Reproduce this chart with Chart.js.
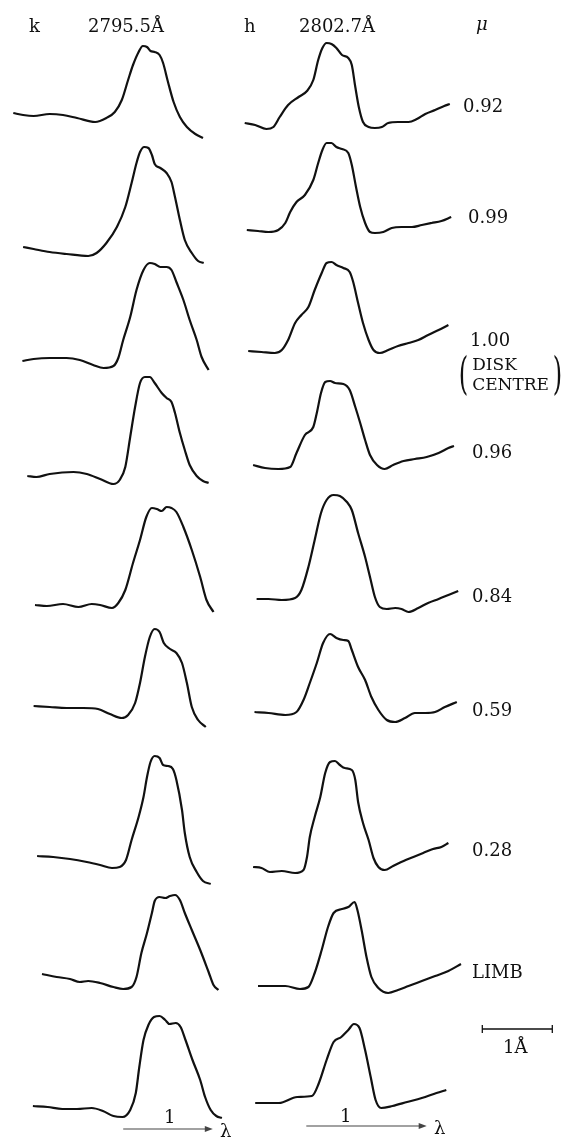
<!DOCTYPE html>
<html>
<head>
<meta charset="utf-8">
<script src="https://cdn.jsdelivr.net/npm/chart.js@4.4.1/dist/chart.umd.min.js"></script>
<style>
  html, body { margin: 0; padding: 0; background: #fff; }
  #fig { position: relative; width: 575px; height: 1141px; font-family: "DejaVu Serif", "Liberation Serif", serif; color: #111; }
  #fig canvas { position: absolute; left: 0; top: 0; }
  .t { position: absolute; white-space: nowrap; font-size: 18px; line-height: 1; transform: translateY(-50%); }
  .disk { display: flex; align-items: center; }
  .disk .p { font-size: 44px; line-height: 1; font-weight: 200; transform: scaleX(0.55); }
  .disk .w { font-size: 17px; line-height: 20px; }
</style>
</head>
<body>
<div id="fig">
  <canvas id="c" width="575" height="1141"></canvas>
  <div class="t" style="left:29px;top:26px">k</div>
  <div class="t" style="left:88px;top:26px">2795.5Å</div>
  <div class="t" style="left:244px;top:26px">h</div>
  <div class="t" style="left:299px;top:26px">2802.7Å</div>
  <div class="t" style="left:476px;top:24px;font-style:italic">μ</div>
  <div id="mu"></div>
  <div class="t disk" style="left:455px;top:374px"><span class="p">(</span><span class="w">DISK<br>CENTRE</span><span class="p">)</span></div>
  <div class="t" style="left:503px;top:1047px">1Å</div>
  <div class="t" style="left:164px;top:1117px">1</div>
  <div class="t" style="left:220px;top:1131px">λ</div>
  <div class="t" style="left:340px;top:1116px">1</div>
  <div class="t" style="left:434px;top:1128px">λ</div>
</div>
<script>
// Mg II k and h line profiles, wavelength offset (Å) vs relative intensity
const muLabels = ["0.92", "0.99", "1.00", "0.96", "0.84", "0.59", "0.28", "LIMB"];

const k092 = [[0.19,0.27],[0.33,0.25],[0.48,0.24],[0.71,0.26],[0.90,0.25],[1.10,0.22],[1.36,0.18],[1.52,0.22],[1.64,0.28],[1.74,0.40],[1.83,0.60],[1.90,0.75],[1.98,0.88],[2.04,0.94],[2.10,0.93],[2.15,0.89],[2.21,0.88],[2.28,0.85],[2.33,0.77],[2.40,0.58],[2.48,0.38],[2.57,0.23],[2.67,0.13],[2.79,0.06],[2.90,0.02]];
const k099 = [[0.33,0.18],[0.48,0.16],[0.71,0.13],[0.95,0.11],[1.26,0.09],[1.38,0.12],[1.52,0.22],[1.67,0.38],[1.79,0.58],[1.88,0.82],[1.95,1.02],[2.00,1.13],[2.06,1.18],[2.12,1.17],[2.17,1.10],[2.21,1.01],[2.29,0.97],[2.38,0.92],[2.45,0.83],[2.50,0.68],[2.57,0.45],[2.64,0.25],[2.74,0.12],[2.83,0.04],[2.91,0.02]];
const k100 = [[0.32,0.11],[0.48,0.13],[0.71,0.14],[0.95,0.14],[1.14,0.12],[1.33,0.07],[1.48,0.04],[1.62,0.06],[1.69,0.14],[1.76,0.32],[1.86,0.55],[1.95,0.82],[2.05,1.02],[2.14,1.09],[2.21,1.08],[2.29,1.05],[2.38,1.05],[2.45,1.02],[2.52,0.90],[2.62,0.72],[2.71,0.52],[2.81,0.32],[2.88,0.15],[2.98,0.02]];
const k096 = [[0.39,0.09],[0.52,0.08],[0.71,0.11],[1.05,0.13],[1.24,0.11],[1.43,0.06],[1.62,0.01],[1.71,0.05],[1.79,0.18],[1.86,0.48],[1.93,0.78],[2.00,1.02],[2.07,1.08],[2.14,1.08],[2.21,1.02],[2.31,0.92],[2.38,0.87],[2.45,0.83],[2.50,0.72],[2.57,0.52],[2.64,0.35],[2.71,0.20],[2.81,0.09],[2.90,0.04],[2.98,0.02]];
const k084 = [[0.50,0.10],[0.67,0.09],[0.90,0.11],[1.12,0.08],[1.31,0.11],[1.43,0.10],[1.60,0.07],[1.69,0.12],[1.79,0.25],[1.90,0.52],[2.00,0.75],[2.09,0.98],[2.17,1.07],[2.24,1.06],[2.31,1.04],[2.38,1.08],[2.45,1.07],[2.52,1.03],[2.62,0.88],[2.74,0.65],[2.86,0.38],[2.95,0.15],[3.05,0.03]];
const k059 = [[0.48,0.24],[0.71,0.23],[0.95,0.22],[1.19,0.22],[1.40,0.21],[1.57,0.16],[1.74,0.12],[1.83,0.15],[1.93,0.27],[2.00,0.47],[2.07,0.73],[2.14,0.93],[2.21,1.01],[2.28,0.98],[2.34,0.87],[2.43,0.81],[2.52,0.77],[2.60,0.67],[2.67,0.47],[2.74,0.23],[2.83,0.10],[2.94,0.03]];
const k028 = [[0.53,0.29],[0.76,0.28],[1.00,0.26],[1.24,0.23],[1.43,0.20],[1.60,0.17],[1.71,0.18],[1.80,0.25],[1.88,0.45],[1.98,0.68],[2.05,0.88],[2.10,1.08],[2.15,1.23],[2.21,1.29],[2.28,1.27],[2.33,1.20],[2.40,1.19],[2.47,1.16],[2.52,1.05],[2.60,0.75],[2.64,0.52],[2.71,0.28],[2.81,0.13],[2.90,0.04],[3.01,0.01]];
const kLimb = [[0.60,0.21],[0.81,0.18],[1.00,0.16],[1.14,0.13],[1.26,0.14],[1.43,0.12],[1.62,0.08],[1.76,0.06],[1.88,0.08],[1.95,0.18],[2.02,0.42],[2.10,0.62],[2.17,0.82],[2.21,0.94],[2.28,0.98],[2.36,0.97],[2.43,0.99],[2.50,1.00],[2.57,0.95],[2.64,0.82],[2.74,0.65],[2.86,0.45],[2.98,0.23],[3.05,0.10],[3.12,0.05]];
const kLast = [[0.47,0.14],[0.68,0.13],[0.89,0.11],[1.10,0.11],[1.31,0.12],[1.47,0.09],[1.62,0.04],[1.75,0.03],[1.86,0.10],[1.94,0.27],[1.99,0.53],[2.05,0.80],[2.12,0.95],[2.20,1.03],[2.28,1.04],[2.36,1.00],[2.42,0.96],[2.51,0.97],[2.58,0.93],[2.65,0.80],[2.75,0.60],[2.86,0.40],[2.93,0.23],[3.01,0.10],[3.09,0.04],[3.17,0.02]];

const h092 = [[0.21,0.17],[0.36,0.15],[0.52,0.11],[0.62,0.13],[0.71,0.23],[0.83,0.35],[0.98,0.43],[1.10,0.49],[1.19,0.60],[1.26,0.80],[1.32,0.92],[1.38,0.97],[1.45,0.96],[1.52,0.92],[1.60,0.85],[1.69,0.82],[1.74,0.75],[1.79,0.53],[1.84,0.33],[1.90,0.18],[1.98,0.13],[2.07,0.12],[2.17,0.13],[2.26,0.17],[2.40,0.18],[2.55,0.18],[2.67,0.21],[2.79,0.26],[2.93,0.30],[3.06,0.34],[3.14,0.36]];
const h099 = [[0.24,0.35],[0.40,0.34],[0.55,0.33],[0.69,0.35],[0.79,0.42],[0.86,0.53],[0.95,0.63],[1.07,0.70],[1.19,0.85],[1.26,1.02],[1.32,1.15],[1.38,1.22],[1.45,1.22],[1.52,1.18],[1.60,1.16],[1.69,1.12],[1.74,1.00],[1.80,0.78],[1.86,0.58],[1.93,0.42],[2.00,0.33],[2.07,0.32],[2.19,0.33],[2.31,0.37],[2.45,0.38],[2.60,0.38],[2.74,0.40],[2.88,0.42],[3.02,0.44],[3.16,0.48]];
const h100 = [[0.26,0.21],[0.45,0.20],[0.64,0.19],[0.74,0.22],[0.83,0.32],[0.93,0.49],[1.02,0.57],[1.12,0.65],[1.21,0.82],[1.31,0.99],[1.38,1.09],[1.45,1.10],[1.52,1.07],[1.62,1.04],[1.71,1.00],[1.76,0.90],[1.83,0.69],[1.90,0.49],[1.98,0.32],[2.05,0.22],[2.14,0.19],[2.26,0.22],[2.40,0.26],[2.55,0.29],[2.69,0.32],[2.83,0.37],[2.98,0.42],[3.12,0.47]];
const h096 = [[0.33,0.20],[0.50,0.17],[0.69,0.16],[0.86,0.18],[0.95,0.32],[1.07,0.50],[1.19,0.58],[1.24,0.72],[1.30,0.92],[1.36,1.03],[1.43,1.04],[1.50,1.02],[1.62,1.01],[1.71,0.95],[1.79,0.78],[1.86,0.62],[1.93,0.45],[2.00,0.30],[2.10,0.20],[2.21,0.16],[2.33,0.20],[2.48,0.24],[2.64,0.26],[2.81,0.28],[2.98,0.32],[3.12,0.37],[3.20,0.39]];
const h084 = [[0.38,0.16],[0.55,0.16],[0.74,0.15],[0.93,0.17],[1.02,0.25],[1.12,0.48],[1.21,0.75],[1.30,1.02],[1.38,1.15],[1.48,1.20],[1.57,1.19],[1.67,1.13],[1.74,1.05],[1.83,0.82],[1.93,0.58],[2.00,0.38],[2.07,0.18],[2.14,0.08],[2.24,0.06],[2.36,0.07],[2.45,0.06],[2.55,0.03],[2.69,0.07],[2.83,0.12],[2.98,0.16],[3.12,0.20],[3.26,0.24]];
const h059 = [[0.35,0.18],[0.55,0.17],[0.79,0.15],[0.95,0.18],[1.05,0.30],[1.14,0.47],[1.24,0.67],[1.33,0.87],[1.43,0.96],[1.52,0.92],[1.62,0.90],[1.69,0.89],[1.74,0.80],[1.83,0.63],[1.93,0.50],[2.02,0.33],[2.12,0.20],[2.24,0.10],[2.36,0.08],[2.50,0.12],[2.64,0.17],[2.79,0.17],[2.93,0.18],[3.07,0.23],[3.24,0.28]];
const h028 = [[0.33,0.18],[0.45,0.17],[0.57,0.13],[0.74,0.14],[0.93,0.12],[1.05,0.15],[1.10,0.28],[1.14,0.48],[1.21,0.68],[1.29,0.88],[1.36,1.12],[1.43,1.23],[1.50,1.24],[1.57,1.20],[1.64,1.17],[1.74,1.15],[1.79,1.05],[1.83,0.83],[1.90,0.62],[1.98,0.45],[2.05,0.27],[2.12,0.18],[2.21,0.15],[2.33,0.19],[2.48,0.24],[2.62,0.28],[2.76,0.32],[2.90,0.36],[3.02,0.38],[3.12,0.42]];
const hLimb = [[0.40,0.09],[0.60,0.09],[0.79,0.09],[1.00,0.06],[1.12,0.08],[1.21,0.22],[1.31,0.45],[1.40,0.68],[1.48,0.82],[1.60,0.86],[1.69,0.88],[1.78,0.93],[1.82,0.85],[1.88,0.65],[1.95,0.38],[2.02,0.18],[2.12,0.07],[2.26,0.02],[2.40,0.05],[2.55,0.09],[2.74,0.14],[2.93,0.19],[3.12,0.24],[3.30,0.31]];
const hLast = [[0.36,0.17],[0.70,0.17],[0.96,0.23],[1.17,0.24],[1.27,0.37],[1.38,0.60],[1.48,0.78],[1.59,0.83],[1.69,0.90],[1.77,0.96],[1.85,0.92],[1.93,0.70],[2.01,0.43],[2.08,0.20],[2.16,0.12],[2.32,0.14],[2.53,0.18],[2.74,0.22],[2.95,0.27],[3.09,0.30]];

const kRows = [k092, k099, k100, k096, k084, k059, k028, kLimb, kLast];
const hRows = [h092, h099, h100, h096, h084, h059, h028, hLimb, hLast];

// layout of the plate (page pixels)
const W = 575, H = 1141;
const PX_PER_ANG = 70;      // length of the 1 Å bar
const PX_PER_UNIT = 100;    // one intensity unit
const colLeft = [0, 230];
const rowBase = [140, 265, 372, 485, 615, 730, 885, 995, 1120];
const labelLeft = [463, 468, 470, 472, 472, 472, 472, 472];
const labelTop = [106, 217, 340, 452, 596, 710, 850, 972];
const scaleBar = { fromA: 6.89, lengthA: 1, top: 1029 };
const arrows = [
  { col: 0, fromA: 1.76, toA: 3.04, top: 1129 },
  { col: 1, fromA: 1.09, toA: 2.81, top: 1126 },
];

const muHost = document.getElementById("mu");
muLabels.forEach((m, i) => {
  const d = document.createElement("div");
  d.className = "t";
  d.style.left = labelLeft[i] + "px";
  d.style.top = labelTop[i] + "px";
  d.textContent = m;
  muHost.appendChild(d);
});

const yOf = (top) => (H - top) / PX_PER_UNIT;

function toPoints(profile, col, row) {
  const x0 = colLeft[col] / PX_PER_ANG;
  const y0 = yOf(rowBase[row]);
  return profile.map(([l, i]) => ({ x: x0 + l, y: y0 + i }));
}

const datasets = [];
[kRows, hRows].forEach((rows, col) => {
  rows.forEach((profile, row) => {
    datasets.push({
      data: toPoints(profile, col, row),
      borderColor: "#111",
      borderWidth: 2.2,
      pointRadius: 0,
      cubicInterpolationMode: "monotone",
      fill: false,
      clip: false,
    });
  });
});

const overlay = {
  id: "overlay",
  afterDatasetsDraw(chart) {
    const { ctx, scales: { x, y } } = chart;
    ctx.save();
    ctx.strokeStyle = "#111";
    ctx.fillStyle = "#111";

    // 1 Å scale bar with end ticks
    const bx0 = x.getPixelForValue(scaleBar.fromA);
    const bx1 = x.getPixelForValue(scaleBar.fromA + scaleBar.lengthA);
    const by = y.getPixelForValue(yOf(scaleBar.top));
    ctx.lineWidth = 1.3;
    ctx.beginPath();
    ctx.moveTo(bx0, by); ctx.lineTo(bx1, by);
    ctx.moveTo(bx0, by - 4); ctx.lineTo(bx0, by + 4);
    ctx.moveTo(bx1, by - 4); ctx.lineTo(bx1, by + 4);
    ctx.stroke();

    // wavelength direction arrows
    arrows.forEach((a) => {
      const off = colLeft[a.col] / PX_PER_ANG;
      const ax0 = x.getPixelForValue(off + a.fromA);
      const ax1 = x.getPixelForValue(off + a.toA);
      const ay = y.getPixelForValue(yOf(a.top));
      ctx.strokeStyle = "#444";
      ctx.fillStyle = "#444";
      ctx.lineWidth = 1.1;
      ctx.beginPath();
      ctx.moveTo(ax0, ay); ctx.lineTo(ax1 - 6, ay);
      ctx.stroke();
      ctx.beginPath();
      ctx.moveTo(ax1, ay); ctx.lineTo(ax1 - 8, ay - 3); ctx.lineTo(ax1 - 8, ay + 3);
      ctx.closePath();
      ctx.fill();
    });
    ctx.restore();
  },
};

new Chart(document.getElementById("c"), {
  type: "line",
  data: { datasets },
  options: {
    responsive: false,
    animation: false,
    layout: { padding: 0 },
    plugins: { legend: { display: false }, tooltip: { enabled: false } },
    scales: {
      x: { type: "linear", display: false, min: 0, max: W / PX_PER_ANG },
      y: { type: "linear", display: false, min: 0, max: H / PX_PER_UNIT },
    },
  },
  plugins: [overlay],
});
</script>
</body>
</html>
